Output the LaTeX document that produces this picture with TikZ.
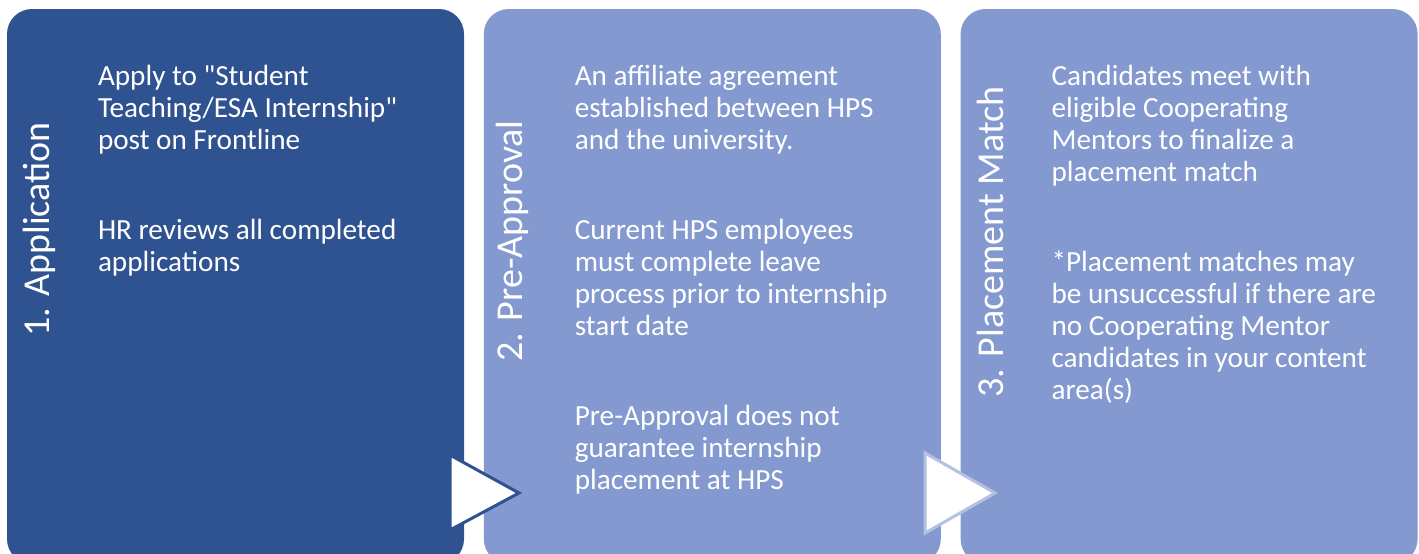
\documentclass[tikz,border=0pt]{standalone}
\usepackage{fontspec}
\setmainfont{Carlito}[Ligatures=TeXOff]
\usepackage{tikz}
\usetikzlibrary{positioning}
\definecolor{stagedark}{HTML}{2F5290}
\definecolor{stagelight}{HTML}{8399CF}
\definecolor{chevronedge}{HTML}{B4C1E2}
\tikzstyle{stage} = [rectangle, rounded corners=12.5pt, minimum width=228.5pt, minimum height=277.5pt, inner sep=0pt, draw=none]
\tikzstyle{stagetitle} = [text=white, rotate=90, inner sep=0pt, font=\fontsize{19}{22}\selectfont]
\tikzstyle{stagetext} = [text=white, anchor=north west, align=left, inner sep=0pt, font=\fontsize{14.6}{16}\selectfont]
\tikzstyle{chevron} = [fill=white, line width=1.5pt, line join=miter]

\begin{document}
\begin{tikzpicture}[x=0.5pt, y=-0.5pt]
    \useasboundingbox[clip] (0,0) rectangle (1419,553);

    % Draw the three stages
    \node[stage, fill=stagedark] (app) at (235.5,286.5) {};
    \node[stage, fill=stagelight, right=9.5pt of app] (preapp) {};
    \node[stage, fill=stagelight, right=9.5pt of preapp] (match) {};

    % Titles
    \node[stagetitle] (apptitle) at ([xshift=16.5pt, yshift=28.5pt]app.west) {1. Application};
    \node[stagetitle] (preapptitle) at ([xshift=14.5pt, yshift=22.75pt]preapp.west) {2. Pre-Approval};
    \node[stagetitle] (matchtitle) at ([xshift=15pt, yshift=22.25pt]match.west) {3. Placement Match};

    % Texts
    \node[stagetext] (apptext) at ([xshift=45.5pt, yshift=-26.8pt]app.north west)
        {\strut Apply to "Student\\Teaching/ESA Internship"\\post on Frontline\\[29pt]
         HR reviews all completed\\applications};
    \node[stagetext] (preapptext) at ([xshift=45.5pt, yshift=-26.8pt]preapp.north west)
        {\strut An affiliate agreement\\established between HPS\\and the university.\\[29pt]
         Current HPS employees\\must complete leave\\process prior to internship\\start date\\[29pt]
         Pre-Approval does not\\guarantee internship\\placement at HPS};
    \node[stagetext] (matchtext) at ([xshift=45.5pt, yshift=-26.8pt]match.north west)
        {\strut Candidates meet with\\eligible Cooperating\\Mentors to finalize a\\placement match\\[29pt]
         *Placement matches may\\be unsuccessful if there are\\no Cooperating Mentor\\candidates in your content\\area(s)};

    % Arrows between stages
    \draw[chevron, draw=stagedark] (450,455) -- (519,493) -- (450,530) -- cycle;
    \draw[chevron, draw=chevronedge] (925,453) -- (995,493) -- (925,533) -- cycle;
\end{tikzpicture}
\end{document}
